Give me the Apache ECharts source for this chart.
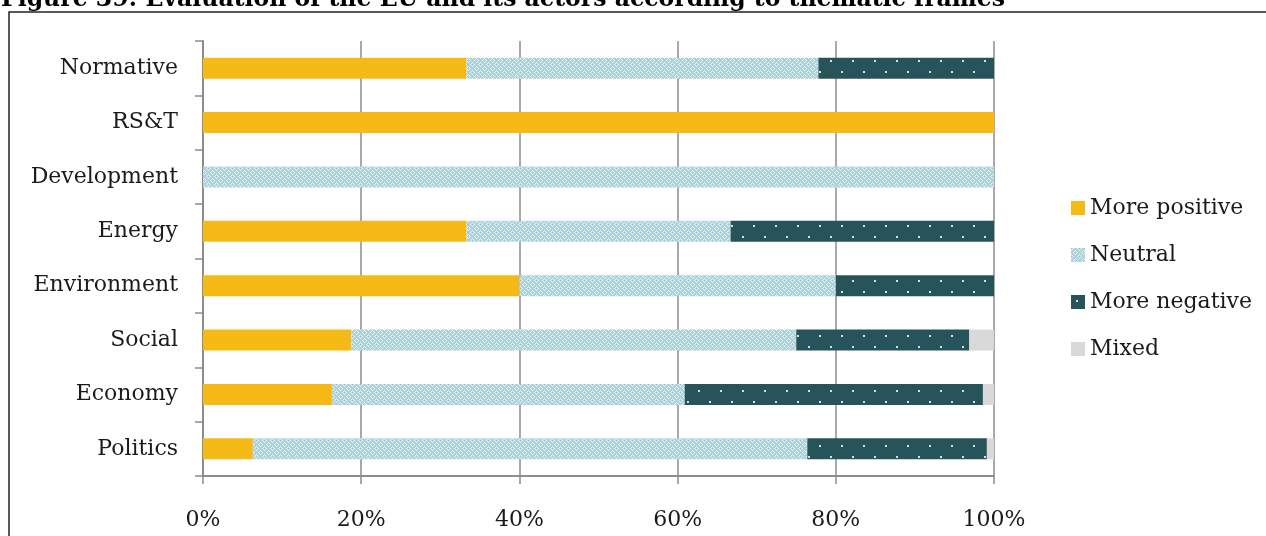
<!DOCTYPE html>
<html>
<head>
<meta charset="utf-8">
<script src="https://cdn.jsdelivr.net/npm/echarts@6/dist/echarts.min.js"></script>
<style>
  html, body { margin: 0; padding: 0; background: #ffffff; }
  #chart { width: 1266px; height: 536px; }
</style>
</head>
<body>
<div id="chart"></div>
<script>
// Thematic frames, listed top to bottom
const categories = ['Normative', 'RS&T', 'Development', 'Energy', 'Environment', 'Social', 'Economy', 'Politics'];

// Share of evaluations per frame (%)
const morePositive = [33.3, 100, 0, 33.3, 40, 18.75, 16.3, 6.3];
const neutral      = [44.5, 0, 100, 33.4, 40, 56.25, 44.6, 70.1];
const moreNegative = [22.2, 0, 0, 33.3, 20, 21.875, 37.7, 22.7];
const mixed        = [0, 0, 0, 0, 0, 3.125, 1.4, 0.9];

const seriesNames = ['More positive', 'Neutral', 'More negative', 'Mixed'];
const xTicks = [0, 20, 40, 60, 80, 100];

const titleText = 'Figure 39: Evaluation of the EU and its actors according to thematic frames';

const SERIF = '"DejaVu Serif", "Liberation Serif", serif';

// Light blue lattice fill for the neutral share
function neutralPattern() {
  const c = document.createElement('canvas');
  c.width = 8; c.height = 8;
  const g = c.getContext('2d');
  g.fillStyle = '#afd3db';
  g.fillRect(0, 0, 8, 8);
  g.fillStyle = '#e3f0f3';
  // light diamonds around a darker cross at each lattice node
  for (let y = 0; y < 8; y++) {
    for (let x = 0; x < 8; x++) {
      const d = Math.abs(x - 4) + Math.abs(y - 4);
      if (d === 2 || d === 6) g.fillRect(x, y, 1, 1);
    }
  }
  g.fillStyle = '#9ec7d1';
  g.fillRect(4, 4, 1, 1);
  g.fillRect(0, 0, 1, 1);
  return { image: c, repeat: 'repeat' };
}

// Dark teal fill with small staggered dots for the negative share
function negativePattern() {
  const c = document.createElement('canvas');
  c.width = 22; c.height = 22;
  const g = c.getContext('2d');
  g.fillStyle = '#27535a';
  g.fillRect(0, 0, 22, 22);
  g.fillStyle = '#d6e0e1';
  g.fillRect(5, 5, 2, 2);
  g.fillRect(16, 16, 2, 2);
  return { image: c, repeat: 'repeat' };
}

const fills = ['#f6ba16', neutralPattern(), negativePattern(), '#d9d9d9'];
const values = [morePositive, neutral, moreNegative, mixed];

// Fit the heading to its printed width
const TITLE_FONT = 'bold 24px ' + SERIF;
const measure = document.createElement('canvas').getContext('2d');
measure.font = TITLE_FONT;
const titleScale = 1004 / measure.measureText(titleText).width;

const chart = echarts.init(document.getElementById('chart'), null, { renderer: 'canvas' });

chart.setOption({
  animation: false,
  backgroundColor: '#ffffff',
  grid: { left: 203, right: 272, top: 41, bottom: 60, containLabel: false },
  legend: {
    orient: 'vertical',
    left: 1071,
    top: 197,
    padding: 0,
    itemWidth: 14,
    itemHeight: 14,
    itemGap: 25,
    icon: 'rect',
    data: seriesNames,
    textStyle: { fontFamily: SERIF, fontSize: 22, color: '#1a1a1a', lineHeight: 22 }
  },
  xAxis: {
    type: 'value',
    min: 0,
    max: 100,
    interval: 20,
    axisLine: { show: true, lineStyle: { color: '#8c8c8c', width: 2 } },
    axisTick: { show: true, length: 8, lineStyle: { color: '#8c8c8c', width: 1.5 } },
    splitLine: { show: true, lineStyle: { color: '#8c8c8c', width: 1.5 } },
    axisLabel: {
      margin: 33,
      fontFamily: SERIF,
      fontSize: 22,
      color: '#1a1a1a',
      formatter: function (v) { return xTicks.indexOf(v) >= 0 ? v + '%' : ''; }
    }
  },
  yAxis: {
    type: 'category',
    inverse: true,
    data: categories,
    axisLine: { show: true, lineStyle: { color: '#8c8c8c', width: 2 } },
    axisTick: { show: true, length: 8, lineStyle: { color: '#8c8c8c', width: 1.5 } },
    axisLabel: { margin: 25, fontFamily: SERIF, fontSize: 22, color: '#1a1a1a' }
  },
  series: seriesNames.map(function (name, i) {
    return {
      name: name,
      type: 'bar',
      stack: 'share',
      barWidth: 21,
      data: values[i],
      itemStyle: { color: fills[i] }
    };
  }),
  graphic: [
    {
      type: 'text',
      x: 1,
      y: 12,
      z: 10,
      scaleX: titleScale,
      style: {
        text: titleText,
        font: TITLE_FONT,
        fill: '#000000',
        verticalAlign: 'bottom',
        align: 'left'
      }
    },
    {
      type: 'polyline',
      z: 10,
      shape: { points: [[9, 540], [9, 12], [1270, 12]] },
      style: { stroke: '#222222', lineWidth: 1.5, fill: null }
    }
  ]
});
</script>
</body>
</html>
